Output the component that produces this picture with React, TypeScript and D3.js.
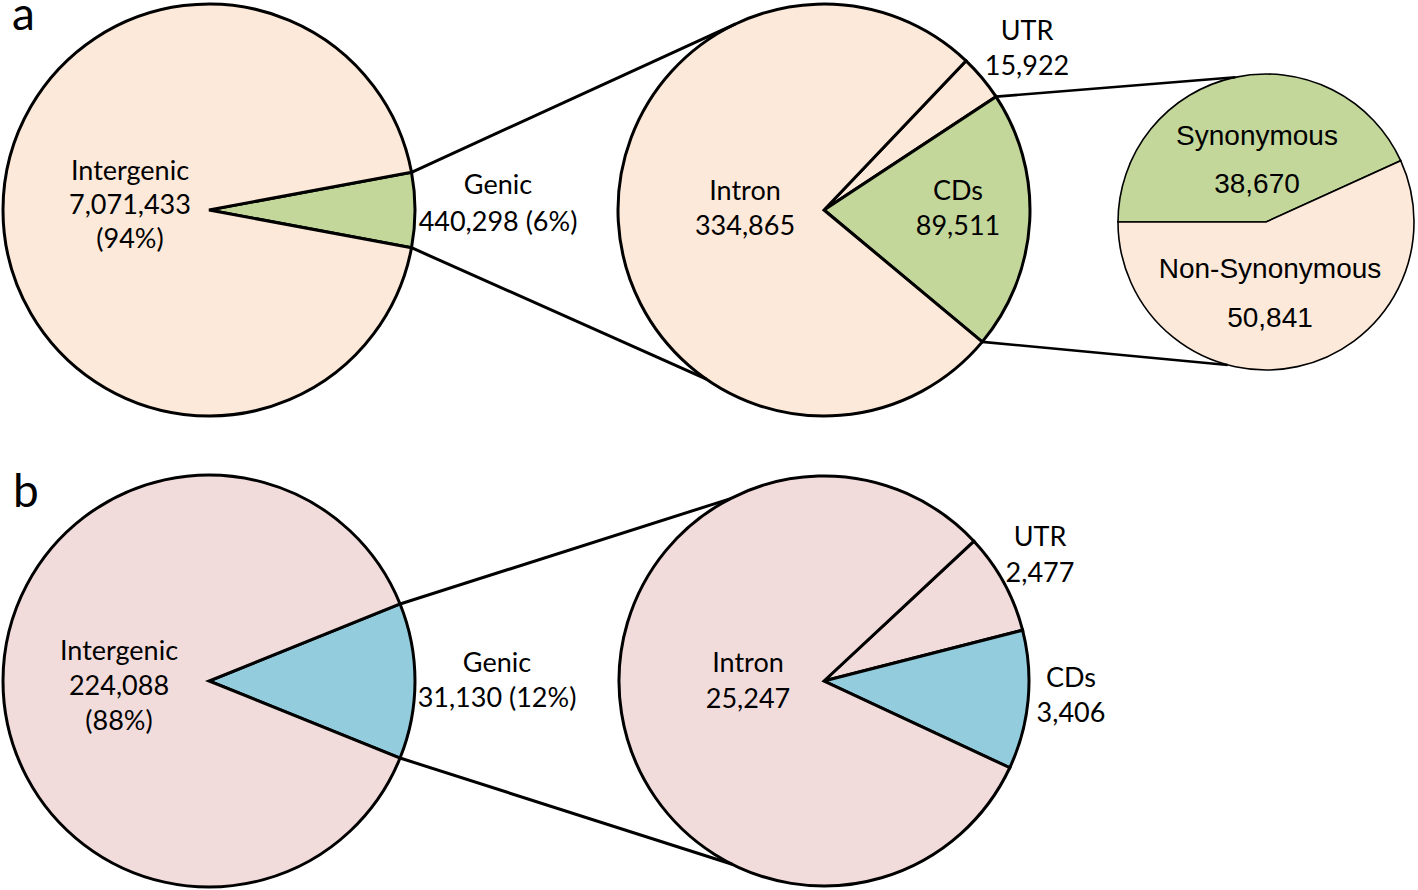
import React from "react";
import * as d3 from "d3";

// ---------- data ----------
const panelAOuter = [
  { name: "Genic", value: 440298 },
  { name: "Intergenic", value: 7071433 },
];
const panelAGenic = [
  { name: "UTR", value: 15922 },
  { name: "CDs", value: 89511 },
  { name: "Intron", value: 334865 },
];
const panelACds = [
  { name: "Synonymous", value: 38670 },
  { name: "Non-Synonymous", value: 50841 },
];
const panelBOuter = [
  { name: "Genic", value: 31130 },
  { name: "Intergenic", value: 224088 },
];
const panelBGenic = [
  { name: "UTR", value: 2477 },
  { name: "CDs", value: 3406 },
  { name: "Intron", value: 25247 },
];
const pctA = ["6%", "94%"];
const pctB = ["12%", "88%"];

// ---------- styles ----------
const PEACH = "#FDE9D9";
const GREEN = "#C4D79B";
const PINK = "#F2DCDB";
const BLUE = "#93CDDD";
const CAL = "Lato, 'Open Sans', sans-serif";
const ARIAL = "'Liberation Sans', Arial, sans-serif";
const FS = 27;

const rad = (deg: number) => (deg * Math.PI) / 180;
const fmt = d3.format(",");

type Datum = { name: string; value: number };

function buildPie(data: Datum[], startDeg: number) {
  const total = d3.sum(data, (d) => d.value);
  return d3
    .pie<Datum>()
    .sort(null)
    .value((d) => d.value)
    .startAngle(rad(startDeg))
    .endAngle(rad(startDeg + 360))(data);
}

// point on circle for d3 angle (0 at top, clockwise)
function pt(cx: number, cy: number, r: number, a: number): [number, number] {
  return [cx + r * Math.sin(a), cy - r * Math.cos(a)];
}
// point for math angle in degrees (0 right, ccw)
function ptMath(cx: number, cy: number, r: number, deg: number): [number, number] {
  return [cx + r * Math.cos(rad(deg)), cy - r * Math.sin(rad(deg))];
}

function Pie({
  data,
  cx,
  cy,
  r,
  startDeg,
  colors,
  sw,
}: {
  data: Datum[];
  cx: number;
  cy: number;
  r: number;
  startDeg: number;
  colors: string[];
  sw: number;
}) {
  const arcs = buildPie(data, startDeg);
  const arc = d3.arc<d3.PieArcDatum<Datum>>().innerRadius(0).outerRadius(r);
  return (
    <g transform={`translate(${cx},${cy})`}>
      {arcs.map((a, i) => (
        <path
          key={i}
          d={arc(a) || ""}
          fill={colors[i]}
          stroke="#000"
          strokeWidth={sw}
          strokeLinejoin="miter"
        />
      ))}
    </g>
  );
}

function Label({
  x,
  y,
  lines,
  gap = 35,
  family = CAL,
  size = FS,
}: {
  x: number;
  y: number;
  lines: string[];
  gap?: number;
  family?: string;
  size?: number;
}) {
  return (
    <text x={x} y={y} textAnchor="middle" fontFamily={family} fontSize={size} fill="#000">
      {lines.map((l, i) => (
        <tspan key={i} x={x} dy={i === 0 ? 0 : gap}>
          {l}
        </tspan>
      ))}
    </text>
  );
}

export default function App() {
  // layout
  const A1 = { cx: 209, cy: 210, r: 206 };
  const A2 = { cx: 824, cy: 210, r: 206 };
  const A3 = { cx: 1266, cy: 222, r: 148 };
  const B1 = { cx: 209, cy: 681, r: 206 };
  const B2 = { cx: 824, cy: 681, r: 205 };

  const totA = d3.sum(panelAOuter, (d) => d.value);
  const totB = d3.sum(panelBOuter, (d) => d.value);
  const spanA = (panelAOuter[0].value / totA) * 360;
  const spanB = (panelBOuter[0].value / totB) * 360;
  const startA1 = 90 - spanA / 2;
  const startB1 = 90 - spanB / 2;
  const startA2 = 43.6;
  const startB2 = 47;
  const startA3 = -90;

  const arcsA1 = buildPie(panelAOuter, startA1);
  const arcsA2 = buildPie(panelAGenic, startA2);
  const arcsB1 = buildPie(panelBOuter, startB1);

  const a1Top = pt(A1.cx, A1.cy, A1.r, arcsA1[0].startAngle);
  const a1Bot = pt(A1.cx, A1.cy, A1.r, arcsA1[0].endAngle);
  const a2Top = ptMath(A2.cx, A2.cy, A2.r, 115.4);
  const a2Bot = ptMath(A2.cx, A2.cy, A2.r, -124.8);

  const cdsA = arcsA2[1];
  const a2CdsTop = pt(A2.cx, A2.cy, A2.r, cdsA.startAngle);
  const a2CdsBot = pt(A2.cx, A2.cy, A2.r, cdsA.endAngle);
  const a3Top = ptMath(A3.cx, A3.cy, A3.r, 101.9);
  const a3Bot = ptMath(A3.cx, A3.cy, A3.r, -105);

  const b1Top = pt(B1.cx, B1.cy, B1.r, arcsB1[0].startAngle);
  const b1Bot = pt(B1.cx, B1.cy, B1.r, arcsB1[0].endAngle);
  const b2Top = ptMath(B2.cx, B2.cy, B2.r, 117.3);
  const b2Bot = ptMath(B2.cx, B2.cy, B2.r, -116.6);

  const line = (p: [number, number], q: [number, number], sw: number, k: string) => (
    <line key={k} x1={p[0]} y1={p[1]} x2={q[0]} y2={q[1]} stroke="#000" strokeWidth={sw} />
  );

  return (
    <svg
      width={1418}
      height={890}
      style={{ position: "absolute", left: 0, top: 0, background: "#fff" }}
    >
      <rect width={1418} height={890} fill="#fff" />
      {/* Panel a */}
      <Pie data={panelAOuter} {...A1} startDeg={startA1} colors={[GREEN, PEACH]} sw={3} />
      <Pie data={panelAGenic} {...A2} startDeg={startA2} colors={[PEACH, GREEN, PEACH]} sw={3} />
      <Pie data={panelACds} {...A3} startDeg={startA3} colors={[GREEN, PEACH]} sw={1.6} />
      {line(a1Top, a2Top, 3, "l1")}
      {line(a1Bot, a2Bot, 3, "l2")}
      {line(a2CdsTop, a3Top, 2.6, "l3")}
      {line(a2CdsBot, a3Bot, 2.6, "l4")}

      {/* Panel b */}
      <Pie data={panelBOuter} {...B1} startDeg={startB1} colors={[BLUE, PINK]} sw={3} />
      <Pie data={panelBGenic} {...B2} startDeg={startB2} colors={[PINK, BLUE, PINK]} sw={3} />
      {line(b1Top, b2Top, 3, "l5")}
      {line(b1Bot, b2Bot, 3, "l6")}

      {/* panel letters */}
      <text x={12} y={30} fontFamily={CAL} fontSize={46}>a</text>
      <text x={13} y={507} fontFamily={CAL} fontSize={46}>b</text>

      {/* labels a */}
      <Label x={130} y={180} lines={[panelAOuter[1].name, fmt(panelAOuter[1].value), `(${pctA[1]})`]} gap={34} />
      <Label x={498} y={194} lines={[panelAOuter[0].name, `${fmt(panelAOuter[0].value)} (${pctA[0]})`]} gap={37} />
      <Label x={745} y={200} lines={[panelAGenic[2].name, fmt(panelAGenic[2].value)]} gap={35} />
      <Label x={958} y={200} lines={[panelAGenic[1].name, fmt(panelAGenic[1].value)]} gap={35} />
      <Label x={1027} y={40} lines={[panelAGenic[0].name, fmt(panelAGenic[0].value)]} gap={35} />
      <Label x={1257} y={145} lines={[panelACds[0].name, fmt(panelACds[0].value)]} gap={48} family={ARIAL} size={28} />
      <Label x={1270} y={278} lines={[panelACds[1].name, fmt(panelACds[1].value)]} gap={49} family={ARIAL} size={28} />

      {/* labels b */}
      <Label x={119} y={660} lines={[panelBOuter[1].name, fmt(panelBOuter[1].value), `(${pctB[1]})`]} gap={35} />
      <Label x={497} y={672} lines={[panelBOuter[0].name, `${fmt(panelBOuter[0].value)} (${pctB[0]})`]} gap={35} />
      <Label x={748} y={672} lines={[panelBGenic[2].name, fmt(panelBGenic[2].value)]} gap={36} />
      <Label x={1040} y={546} lines={[panelBGenic[0].name, fmt(panelBGenic[0].value)]} gap={36} />
      <Label x={1071} y={687} lines={[panelBGenic[1].name, fmt(panelBGenic[1].value)]} gap={35} />
    </svg>
  );
}
